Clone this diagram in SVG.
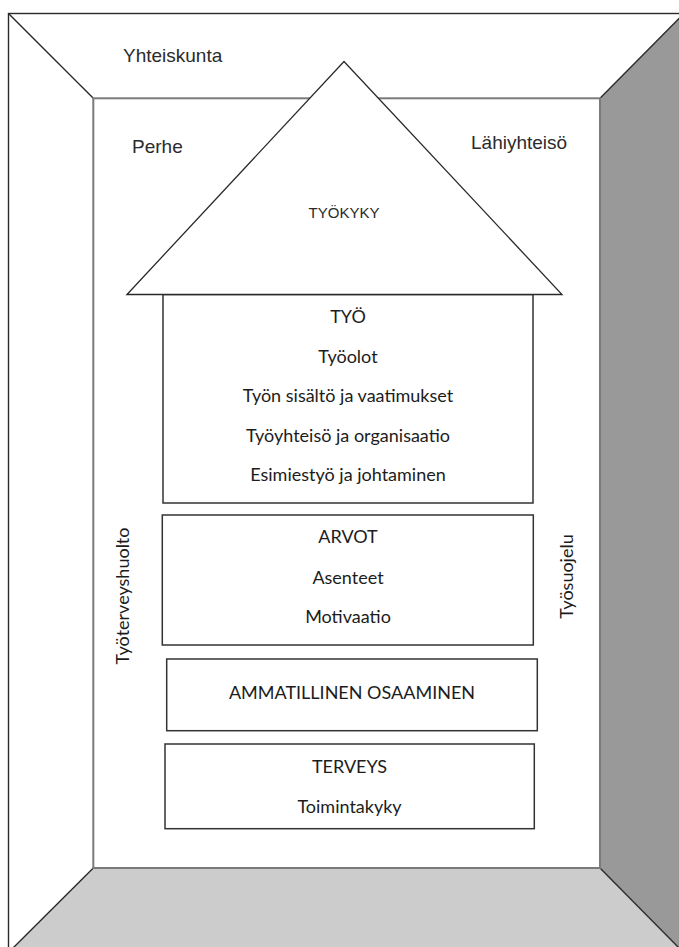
<svg xmlns="http://www.w3.org/2000/svg" width="679" height="947" viewBox="0 0 679 947">
  <style>
    .edge { fill: none; stroke: #2a2a2a; stroke-width: 1.4; }
    .wall { fill: none; stroke: #7a7a7a; stroke-width: 2; }
    .box { fill: #ffffff; stroke: #333333; stroke-width: 1.5; }
    .roof { fill: #ffffff; stroke: #2a2a2a; stroke-width: 1.3; stroke-linejoin: miter; }
    .lbl { font-family: "Liberation Sans", Arial, sans-serif; font-size: 19px; fill: #2b2b2b; }
    .txt { font-family: Lato, "Open Sans", sans-serif; font-size: 18px; fill: #1c1c1c; text-anchor: middle; }
  </style>

  <rect x="0" y="0" width="679" height="947" fill="#ffffff"/>

  <!-- room in perspective: back wall, right wall, floor -->
  <g id="room">
    <polygon points="600,98.3 684,13.5 684,953 600,868" fill="#999999"/>
    <polygon points="93.3,868 600,868 684,953 8,953" fill="#cccccc"/>
    <rect x="8.5" y="13.5" width="680" height="945" class="edge"/>
    <line x1="8.5" y1="13.5" x2="93.3" y2="98.3" class="edge"/>
    <line x1="600" y1="98.3" x2="684" y2="13.5" class="edge"/>
    <line x1="93.3" y1="868" x2="8" y2="953" class="edge"/>
    <line x1="600" y1="868" x2="684" y2="953" class="edge"/>
    <rect x="93.3" y="98.3" width="506.7" height="769.7" class="wall"/>
  </g>

  <!-- surrounding context labels -->
  <g id="yhteiskunta"><text x="123" y="62" class="lbl">Yhteiskunta</text></g>
  <g id="perhe"><text x="132" y="153" class="lbl">Perhe</text></g>
  <g id="lahiyhteiso"><text x="471" y="149" class="lbl">Lähiyhteisö</text></g>

  <!-- house: work section with roof -->
  <g id="tyo">
    <rect x="163" y="294.5" width="370" height="208.5" class="box"/>
    <text x="348" y="322.5" class="txt">TYÖ</text>
    <text x="348" y="362.5" class="txt">Työolot</text>
    <text x="348" y="401.5" class="txt">Työn sisältö ja vaatimukset</text>
    <text x="348" y="441.5" class="txt">Työyhteisö ja organisaatio</text>
    <text x="348" y="480.5" class="txt">Esimiestyö ja johtaminen</text>
  </g>

  <g id="tyokyky">
    <polygon points="127,294.5 344,61.5 562,294.5" class="roof"/>
    <text x="344" y="218" font-family="'Liberation Sans', Arial, sans-serif" font-size="15" fill="#2b2b2b" text-anchor="middle">TYÖKYKY</text>
  </g>

  <g id="arvot">
    <rect x="162.3" y="515" width="371" height="130" class="box"/>
    <text x="348" y="543.3" class="txt">ARVOT</text>
    <text x="348" y="584" class="txt">Asenteet</text>
    <text x="348" y="623.3" class="txt">Motivaatio</text>
  </g>

  <g id="osaaminen">
    <rect x="166.7" y="659" width="370.6" height="71.7" class="box"/>
    <text x="352" y="699" class="txt">AMMATILLINEN OSAAMINEN</text>
  </g>

  <g id="terveys">
    <rect x="165" y="744" width="369.3" height="84.7" class="box"/>
    <text x="349.5" y="773.3" class="txt">TERVEYS</text>
    <text x="349.5" y="813.3" class="txt">Toimintakyky</text>
  </g>

  <!-- side labels along the walls -->
  <g id="tyoterveyshuolto">
    <text transform="translate(129,596) rotate(-90)" class="txt">Työterveyshuolto</text>
  </g>
  <g id="tyosuojelu">
    <text transform="translate(573,576.5) rotate(-90)" class="txt">Työsuojelu</text>
  </g>

  <!-- no connectors between the blocks -->
  <g id="connectors"/>
</svg>
